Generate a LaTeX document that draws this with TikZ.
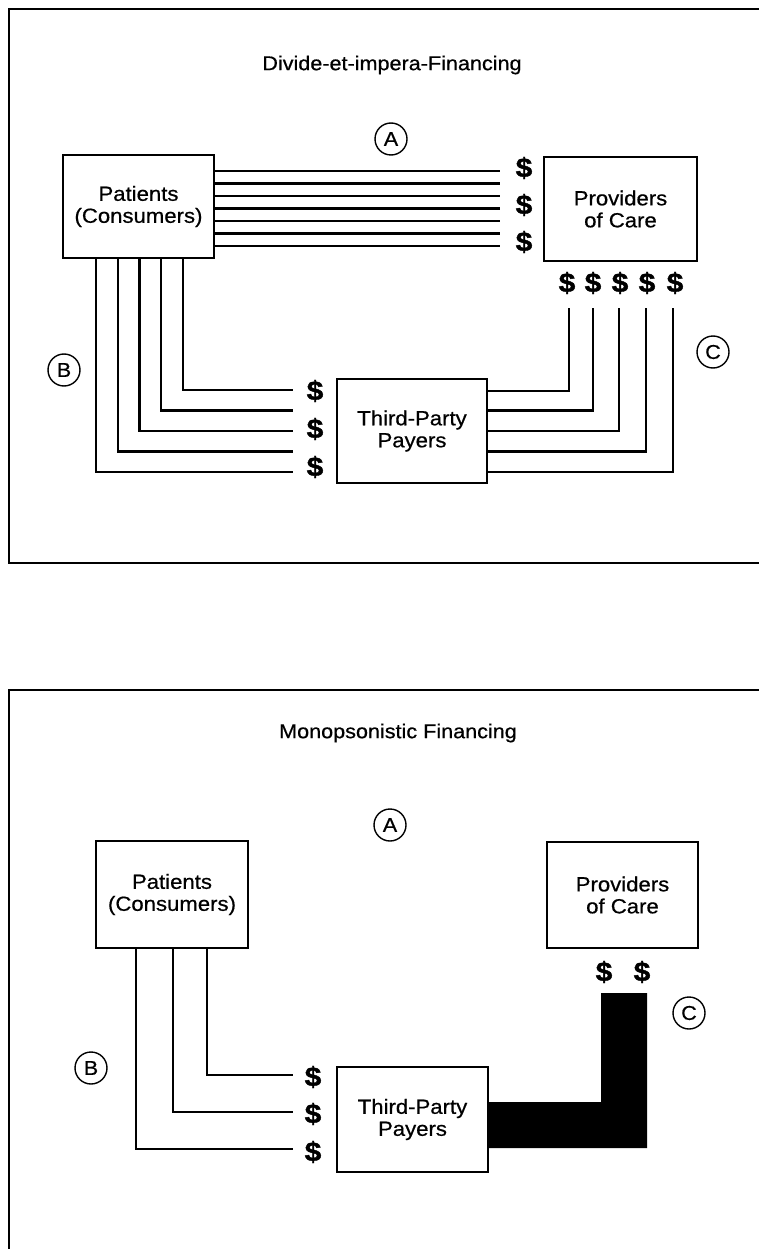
\documentclass[tikz,border=0pt]{standalone}
\usepackage{fontspec}
\setmainfont{Liberation Sans}[FakeStretch=1.08, FakeBold=0.6]
\newfontfamily\heavy{Liberation Sans Bold}[FakeBold=1.5, FakeStretch=1.1]
\begin{document}
\begin{tikzpicture}[x=1pt,y=-1pt,
  box/.style={draw,line width=1.3pt,rectangle,inner sep=0pt,align=center,font=\fontsize{20.5}{22}\selectfont},
  flow/.style={line width=2.2pt},
  frame/.style={line width=1.5pt},
  tag/.style={draw,circle,line width=1.4pt,minimum size=32pt,inner sep=0pt,font=\fontsize{20}{20}\selectfont},
  dol/.style={inner sep=0pt,font=\fontsize{27}{27}\heavy},
  ttl/.style={inner sep=0pt,font=\fontsize{20}{22}\selectfont},
  bar/.style={fill=black}]
\useasboundingbox (0,0) rectangle (759,1249);
\fill[white] (0,0) rectangle (759,1249);

% ---------------- top panel ----------------
\draw[frame] (765,9) -- (9,9) -- (9,563) -- (765,563);
\node[ttl] (t1) at (392,65) {Divide-et-impera-Financing};
\node[tag] (A1) at (391,139) {A};
\node[tag] (B1) at (64,370) {B};
\node[tag] (C1) at (713,352) {C};
\node[box,minimum width=151pt,minimum height=103pt] (P1) at (138.5,206.5) {Patients\\(Consumers)};
\node[box,minimum width=153pt,minimum height=104pt] (V1) at (620.5,209) {Providers\\of Care};
\node[box,minimum width=150pt,minimum height=104pt] (T1) at (412,431) {Third-Party\\Payers};

\foreach \y in {171,183.5,196,208.5,221,233.5,246}{
  \coordinate (h) at (500,\y);
  \draw[flow] (P1.east |- h) -- (h);
}
\node[dol] (da1) at (524,168) {\$};
\node[dol] (da2) at (524,205) {\$};
\node[dol] (da3) at (524,242) {\$};

\foreach \x/\y in {96/472,117.75/451.5,139.5/431,161.25/410.5,183/390}{
  \coordinate (c) at (\x,\y);
  \coordinate (e) at (293,\y);
  \draw[flow] (P1.south -| c) -- (c) -- (e);
}
\node[dol] (db1) at (315,391) {\$};
\node[dol] (db2) at (315,429) {\$};
\node[dol] (db3) at (315,467) {\$};

\foreach \x/\y in {569/391,593/410.5,619/431,646/451.5,673/472}{
  \coordinate (c) at (\x,\y);
  \coordinate (u) at (\x,308);
  \draw[flow] (T1.east |- c) -- (c) -- (u);
}
\foreach \x [count=\i] in {567,593,620,647,675}{
  \node[dol] (dc\i) at (\x,283) {\$};
}

% ---------------- bottom panel ----------------
\draw[frame] (765,690) -- (9,690) -- (9,1260);
\node[ttl] (t2) at (398,733) {Monopsonistic Financing};
\node[tag] (A2) at (390,825) {A};
\node[tag] (B2) at (91,1068) {B};
\node[tag] (C2) at (689,1013) {C};
\node[box,minimum width=152pt,minimum height=107pt] (P2) at (172,894.5) {Patients\\(Consumers)};
\node[box,minimum width=151pt,minimum height=106pt] (V2) at (622.5,895) {Providers\\of Care};
\node[box,minimum width=151pt,minimum height=105pt] (T2) at (412.5,1119.5) {Third-Party\\Payers};

\foreach \x/\y in {136/1149,173/1112,207/1075}{
  \coordinate (c) at (\x,\y);
  \coordinate (e) at (293,\y);
  \draw[flow] (P2.south -| c) -- (c) -- (e);
}
\node[dol] (dd1) at (313,1077) {\$};
\node[dol] (dd2) at (313,1114) {\$};
\node[dol] (dd3) at (313,1152) {\$};
\node[dol] (de1) at (604,972) {\$};
\node[dol] (de2) at (642,972) {\$};

\coordinate (k1) at (601,1102);
\coordinate (k2) at (601,993);
\coordinate (k3) at (647,993);
\coordinate (k4) at (647,1148);
\fill[bar] (T2.east |- k1) -- (k1) -- (k2) -- (k3) -- (k4) -- (T2.east |- k4) -- cycle;
\end{tikzpicture}
\end{document}
